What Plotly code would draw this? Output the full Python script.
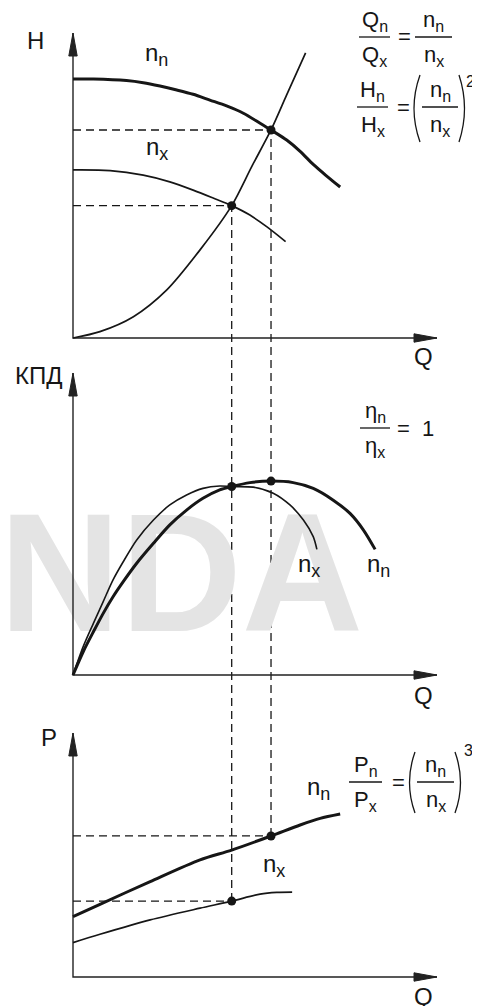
import plotly.graph_objects as go

# the page body has an 8px margin, so the figure is drawn 8px in from the window corner
OFF = 8
W, H = 480 - OFF, 1006 - OFF
FONT = "Liberation Sans, Arial, sans-serif"
INK = "#161616"

# axes run from 0 to 10 in every panel
AXIS_MAX = 10

# panel 1: head H(Q)
q_head_nn = [0, 0.56, 1.47, 1.93, 2.39, 2.85, 3.30, 3.76, 4.22, 4.68, 5.14, 5.44, 5.87, 6.24, 6.60, 6.97, 7.34]
h_head_nn = [8.49, 8.49, 8.44, 8.37, 8.26, 8.13, 7.99, 7.80, 7.61, 7.37, 7.04, 6.82, 6.49, 6.12, 5.69, 5.31, 4.95]
q_head_nx = [0, 1.02, 1.93, 2.66, 3.30, 3.85, 4.36, 4.86, 5.32, 5.84]
h_head_nx = [5.51, 5.49, 5.34, 5.12, 4.85, 4.59, 4.34, 4.03, 3.65, 3.16]
q_system = [0, 0.74, 1.66, 2.57, 3.49, 4.36, 4.91, 5.44, 5.87, 6.39]
h_system = [0, 0.21, 0.70, 1.57, 2.89, 4.34, 5.62, 6.82, 7.97, 9.35]

# panel 2: efficiency
q_eff_nn = [0, 0.28, 0.56, 0.83, 1.10, 1.38, 1.75, 2.21, 2.66, 3.12, 3.57, 4.03, 4.36,
            4.86, 5.44, 6.05, 6.60, 7.15, 7.61, 7.98, 8.30]
e_eff_nn = [0, 0.77, 1.43, 2.04, 2.59, 3.09, 3.70, 4.36, 4.97, 5.46, 5.85, 6.13, 6.24,
            6.37, 6.42, 6.37, 6.18, 5.79, 5.35, 4.80, 4.16]
q_eff_nx = [0, 0.28, 0.56, 0.83, 1.10, 1.38, 1.75, 2.21, 2.66, 3.12, 3.57, 4.03, 4.36,
            4.95, 5.50, 5.96, 6.33, 6.60, 6.70]
e_eff_nx = [0, 0.94, 1.71, 2.43, 3.15, 3.75, 4.47, 5.13, 5.63, 5.96, 6.18, 6.26, 6.24,
            6.22, 6.02, 5.63, 5.13, 4.58, 4.16]

# panel 3: power
q_pow_nn = [0, 0.74, 2.12, 3.49, 4.36, 5.44, 6.24, 6.79, 7.34]
p_pow_nn = [2.47, 2.98, 3.91, 4.80, 5.20, 5.78, 6.23, 6.50, 6.68]
q_pow_nx = [0, 0.74, 2.12, 3.49, 4.36, 5.14, 5.60, 6.02]
p_pow_nx = [1.41, 1.75, 2.34, 2.82, 3.11, 3.40, 3.47, 3.48]

# operating points [n_x, n_n]
q_op = [4.36, 5.44]
h_op = [4.34, 6.82]
e_op = [6.24, 6.42]
p_op = [3.11, 5.78]

# panel frames in window pixels: (axis top, axis bottom)
PANELS = [(33, 338), (373, 675), (733, 977)]
X0_PX, X1_PX = 73, 437
PAD = 0.5  # room round each panel, in axis units


def fx(x):
    return (x - OFF) / W


def fy(y):
    return 1 - (y - OFF) / H


def x_dom():
    u = (X1_PX - X0_PX) / AXIS_MAX
    return [fx(X0_PX - PAD * u), fx(X1_PX + PAD * u)]


def y_dom(k):
    top, bot = PANELS[k]
    u = (bot - top) / AXIS_MAX
    return [fy(bot + PAD * u), fy(top - PAD * u)]


def to_paper(k, v):
    top, bot = PANELS[k]
    return fy(bot - v / AXIS_MAX * (bot - top))


fig = go.Figure()
axes = [("x", "y"), ("x2", "y2"), ("x3", "y3")]

# watermark first so the curves sit on top of it
fig.add_trace(go.Scatter(x=[2.97], y=[2.85], mode="text", text=["NDA"],
                         textfont=dict(family=FONT, size=168, color="#e4e4e4", weight="bold"),
                         xaxis="x2", yaxis="y2", cliponaxis=False, hoverinfo="skip"))


def line(xs, ys, k, width, dash=None):
    xa, ya = axes[k]
    fig.add_trace(go.Scatter(x=xs, y=ys, mode="lines", xaxis=xa, yaxis=ya,
                             line=dict(color=INK, width=width, dash=dash, shape="spline", smoothing=0.8),
                             hoverinfo="skip"))


def arrows(k):
    xa, ya = axes[k]
    top, bot = PANELS[k]
    qpp = AXIS_MAX / (X1_PX - X0_PX)
    vpp = AXIS_MAX / (bot - top)
    L, w = 23, 4.2
    fig.add_trace(go.Scatter(x=[0, 0, AXIS_MAX], y=[AXIS_MAX, 0, 0], mode="lines",
                             line=dict(color="#222", width=1.4), xaxis=xa, yaxis=ya, hoverinfo="skip"))
    fig.add_trace(go.Scatter(x=[0, -w * qpp, w * qpp, 0],
                             y=[AXIS_MAX, AXIS_MAX - L * vpp, AXIS_MAX - L * vpp, AXIS_MAX],
                             mode="lines", fill="toself", fillcolor="#222", line=dict(color="#222", width=1),
                             xaxis=xa, yaxis=ya, hoverinfo="skip"))
    fig.add_trace(go.Scatter(x=[AXIS_MAX, AXIS_MAX - L * qpp, AXIS_MAX - L * qpp, AXIS_MAX],
                             y=[0, w * vpp, -w * vpp, 0],
                             mode="lines", fill="toself", fillcolor="#222", line=dict(color="#222", width=1),
                             xaxis=xa, yaxis=ya, hoverinfo="skip"))


DASH = "8px,5px"
for k in range(3):
    arrows(k)

# horizontal dashed guides
for i in range(2):
    line([0, q_op[i]], [h_op[i], h_op[i]], 0, 1.3, DASH)
    line([0, q_op[i]], [p_op[i], p_op[i]], 2, 1.3, DASH)

line(q_head_nn, h_head_nn, 0, 3)
line(q_head_nx, h_head_nx, 0, 1.7)
line(q_system, h_system, 0, 1.7)
line(q_eff_nx, e_eff_nx, 1, 1.6)
line(q_eff_nn, e_eff_nn, 1, 3)
line(q_pow_nn, p_pow_nn, 2, 3)
line(q_pow_nx, p_pow_nx, 2, 1.7)

for k, vals in enumerate([h_op, e_op, p_op]):
    xa, ya = axes[k]
    fig.add_trace(go.Scatter(x=q_op, y=vals, mode="markers", xaxis=xa, yaxis=ya,
                             marker=dict(color=INK, size=9), hoverinfo="skip"))

# vertical dashed guides running through all three panels
for i in range(2):
    fig.add_shape(type="line", xref="x", yref="paper", x0=q_op[i], x1=q_op[i],
                  y0=to_paper(2, p_op[i]), y1=to_paper(0, h_op[i]),
                  line=dict(color=INK, width=1.3, dash=DASH), layer="below")


def sub(base, s, size):
    return f"{base}<sub><span style='font-size:{size}px'>{s}</span></sub>"


def text(s, x, y, size=24, xanchor="center"):
    fig.add_annotation(x=fx(x), y=fy(y), xref="paper", yref="paper", text=s, showarrow=False,
                       font=dict(family=FONT, size=size, color=INK), xanchor=xanchor, yanchor="middle")


def bar(x0, x1, y):
    fig.add_shape(type="line", xref="paper", yref="paper", x0=fx(x0), x1=fx(x1), y0=fy(y), y1=fy(y),
                  line=dict(color=INK, width=1.3))


def paren(x_end, x_mid, y0, y1):
    path = f"M {fx(x_end)},{fy(y0)} Q {fx(x_mid)},{fy((y0 + y1) / 2)} {fx(x_end)},{fy(y1)}"
    fig.add_shape(type="path", xref="paper", yref="paper", path=path, line=dict(color=INK, width=1.3))


def frac(base_top, base_bot, s_top, s_bot, x0, x1, y, size=22):
    cx = (x0 + x1) / 2
    text(sub(base_top, s_top, 16), cx, y - 16, size)
    bar(x0, x1, y)
    text(sub(base_bot, s_bot, 16), cx, y + 19, size)


# axis labels
text("H", 35, 40)
text("КПД", 38, 375)
text("P", 49, 737)
for y in (357, 695, 996):
    text("Q", 423, y)

# curve labels
LAB = 18
text(sub("n", "n", LAB), 156, 55)
text(sub("n", "x", LAB), 157, 148)
text(sub("n", "x", LAB), 309, 565)
text(sub("n", "n", LAB), 378, 565)
text(sub("n", "n", LAB), 318, 788)
text(sub("n", "x", LAB), 274, 865)

# similarity laws (the right-hand groups are kept clear of the window's right edge)
frac("Q", "Q", "n", "x", 359, 390, 37)
text("=", 404, 37, 22)
frac("n", "n", "n", "x", 415, 452, 37)

frac("H", "H", "n", "x", 357, 388, 107)
text("=", 403, 107, 22)
paren(420, 408, 75, 142)
frac("n", "n", "n", "x", 422, 458, 107)
paren(459, 470, 75, 142)
text("2", 470, 81, 16)

frac("η", "η", "n", "x", 360, 390, 428)
text("=  1", 415, 428, 22)

frac("P", "P", "n", "x", 349, 382, 782)
text("=", 398, 782, 22)
paren(415, 404, 752, 813)
frac("n", "n", "n", "x", 417, 454, 782)
paren(455, 466, 752, 813)
text("3", 468, 750, 16)

layout = dict(width=W, height=H, margin=dict(l=0, r=0, t=0, b=0), showlegend=False,
              paper_bgcolor="white", plot_bgcolor="rgba(0,0,0,0)")
hidden = dict(visible=False, showgrid=False, zeroline=False, fixedrange=True)
for k, (xa, ya) in enumerate(axes):
    xname = "xaxis" if k == 0 else f"xaxis{k + 1}"
    yname = "yaxis" if k == 0 else f"yaxis{k + 1}"
    layout[xname] = dict(hidden, domain=x_dom(), range=[-PAD, AXIS_MAX + PAD], anchor=ya)
    layout[yname] = dict(hidden, domain=y_dom(k), range=[-PAD, AXIS_MAX + PAD], anchor=xa)
fig.update_layout(**layout)

fig.write_html("out.html")
